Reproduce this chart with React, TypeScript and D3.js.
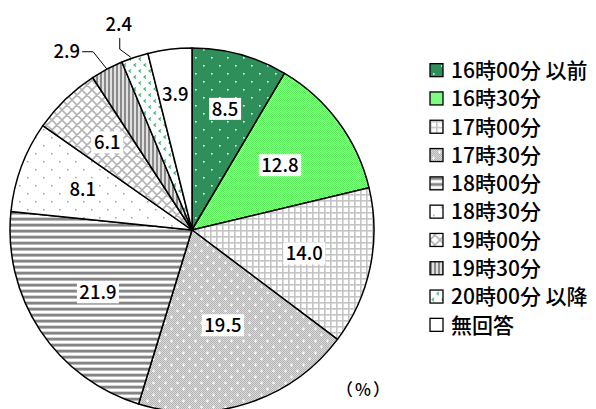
import React from "react";
import * as d3 from "d3";

// 帰宅時刻の分布（%）
const categories = [
  "16時00分 以前",
  "16時30分",
  "17時00分",
  "17時30分",
  "18時00分",
  "18時30分",
  "19時00分",
  "19時30分",
  "20時00分 以降",
  "無回答",
];
const values = [8.5, 12.8, 14.0, 19.5, 21.9, 8.1, 6.1, 2.9, 2.4, 3.9];
const unitLabel = "（%）";

// label placement per slice: inside radius factor, or "out" with a leader
const labelPos: (number | string)[] = [0.69, 0.6, 0.63, 0.55, 0.62, 0.64, 0.67, "left", "up", 0.75];

const W = 596;
const H = 409;
const cx = 192;
const cy = 230;
const R = 182;
const FONT = "'Noto Sans CJK JP', 'Noto Sans', sans-serif";

function Patterns() {
  return (
    <defs>
      <pattern id="p0" width="16" height="16" patternUnits="userSpaceOnUse">
        <rect width="16" height="16" fill="#2f8f5b" />
        <rect x="3" y="3" width="1.6" height="1.6" fill="#e8f5ee" />
        <rect x="11" y="11" width="1.6" height="1.6" fill="#e8f5ee" />
      </pattern>
      <pattern id="p1" width="2" height="2" patternUnits="userSpaceOnUse">
        <rect width="2" height="2" fill="#b4ffb4" />
        <rect width="1" height="1" fill="#52f252" />
        <rect x="1" y="1" width="1" height="1" fill="#52f252" />
      </pattern>
      <pattern id="p2" width="6" height="6" patternUnits="userSpaceOnUse">
        <rect width="6" height="6" fill="#ffffff" />
        <rect width="6" height="1.6" fill="#c4c4c4" />
        <rect width="1.6" height="6" fill="#c4c4c4" />
      </pattern>
      <pattern id="p3chk" width="2" height="2" patternUnits="userSpaceOnUse">
        <rect width="2" height="2" fill="#dadada" />
        <rect width="1" height="1" fill="#b4b4b4" />
        <rect x="1" y="1" width="1" height="1" fill="#b4b4b4" />
      </pattern>
      <pattern id="p3" width="12" height="12" patternUnits="userSpaceOnUse">
        <rect width="12" height="12" fill="url(#p3chk)" />
        <path d="M2,3h3M3.5,1.5v3M8,9h3M9.5,7.5v3" stroke="#ffffff" strokeWidth="1" />
      </pattern>
      <pattern id="p4" width="6" height="6" patternUnits="userSpaceOnUse">
        <rect width="6" height="6" fill="#ffffff" />
        <rect y="0" width="6" height="2" fill="#858585" />
        <rect y="2" width="6" height="1" fill="#b8b8b8" />
        <rect y="5" width="6" height="1" fill="#d6d6d6" />
      </pattern>
      <pattern id="p5" width="16" height="16" patternUnits="userSpaceOnUse">
        <rect width="16" height="16" fill="#ffffff" />
        <rect x="3" y="3" width="1.5" height="1.5" fill="#a0a0a0" />
        <rect x="11" y="11" width="1.5" height="1.5" fill="#a0a0a0" />
      </pattern>
      <pattern id="p6" width="10" height="10" patternUnits="userSpaceOnUse">
        <rect width="10" height="10" fill="#ffffff" />
        <path d="M-1,1L1,-1M0,10L10,0M9,11L11,9M-1,9L1,11M0,0L10,10M9,-1L11,1" stroke="#b4b4b4" strokeWidth="1.6" />
      </pattern>
      <pattern id="p7" width="4" height="4" patternUnits="userSpaceOnUse">
        <rect width="4" height="4" fill="#e0e0e0" />
        <rect width="2" height="4" fill="#8a8a8a" />
      </pattern>
      <pattern id="p8" width="10" height="12" patternUnits="userSpaceOnUse">
        <rect width="10" height="12" fill="#ffffff" />
        <path d="M4,1.5L2,3L4,4.5M9,7.5L7,9L9,10.5" stroke="#3cb371" strokeWidth="1.2" fill="none" />
      </pattern>
      <pattern id="p9" width="4" height="4" patternUnits="userSpaceOnUse">
        <rect width="4" height="4" fill="#ffffff" />
      </pattern>
    </defs>
  );
}

export default function App() {
  const pie = d3
    .pie<number>()
    .sort(null)
    .value((d) => d)
    .startAngle(0)
    .endAngle(2 * Math.PI);
  const arcs = pie(values);
  const arc = d3.arc<d3.PieArcDatum<number>>().innerRadius(0).outerRadius(R);

  const polar = (a: number, r: number) => [Math.sin(a) * r, -Math.cos(a) * r];

  const legendY = d3.scaleBand<number>().domain(d3.range(categories.length)).range([56, 339]);

  return (
    <svg
      width={W}
      height={H}
      style={{ position: "absolute", left: 0, top: 0, background: "#fff" }}
      fontFamily={FONT}
      fontWeight={500}
    >
      <Patterns />
      <rect width={W} height={H} fill="#ffffff" />
      <g transform={`translate(${cx},${cy})`}>
        {arcs.map((a, i) => (
          <path key={i} d={arc(a) || ""} fill={`url(#p${i})`} stroke="#000" strokeWidth={1.5} strokeLinejoin="round" />
        ))}
        {arcs.map((a, i) => {
          const mid = (a.startAngle + a.endAngle) / 2;
          const pos = labelPos[i];
          const txt = values[i].toFixed(1);
          if (typeof pos === "number") {
            const [x, y] = polar(mid, R * pos);
            const w = txt.length * 10 + 2;
            return (
              <g key={i} transform={`translate(${x},${y})`}>
                {i !== 9 && <rect x={-w / 2} y={-11} width={w} height={22} fill="#ffffff" />}
                <text textAnchor="middle" dy="0.36em" fontSize={18.5} fill="#000">
                  {txt}
                </text>
              </g>
            );
          }
          const [ex, ey] = polar(mid, R);
          if (pos === "left") {
            const [bx, by] = polar(mid - 0.02, R * 1.12);
            return (
              <g key={i}>
                <polyline points={`${ex},${ey} ${bx},${by} ${bx - 11},${by}`} fill="none" stroke="#000" strokeWidth={1} />
                <text x={bx - 13} y={by} dy="0.36em" textAnchor="end" fontSize={18.5} fill="#000">
                  {txt}
                </text>
              </g>
            );
          }
          const [bx, by] = polar(mid - 0.06, R * 1.07);
          return (
            <g key={i}>
              <polyline points={`${ex - 4},${ey} ${bx},${by} ${bx},${by - 11}`} fill="none" stroke="#000" strokeWidth={1} />
              <text x={bx - 1} y={by - 25} dy="0.36em" textAnchor="middle" fontSize={18.5} fill="#000">
                {txt}
              </text>
            </g>
          );
        })}
      </g>
      <g>
        {categories.map((c, i) => {
          const y = (legendY(i) || 0) + legendY.bandwidth() / 2;
          return (
            <g key={c} transform={`translate(430,${y})`}>
              <rect x={0} y={-6.5} width={13} height={13} fill={`url(#p${i})`} stroke="#000" strokeWidth={1.3} />
              <text x={21} dy="0.37em" fontSize={21} fill="#000">
                {c}
              </text>
            </g>
          );
        })}
      </g>
      <text x={364} y={390} dy="0.36em" textAnchor="middle" fontSize={17} fill="#000" letterSpacing={2}>
        {unitLabel}
      </text>
    </svg>
  );
}
